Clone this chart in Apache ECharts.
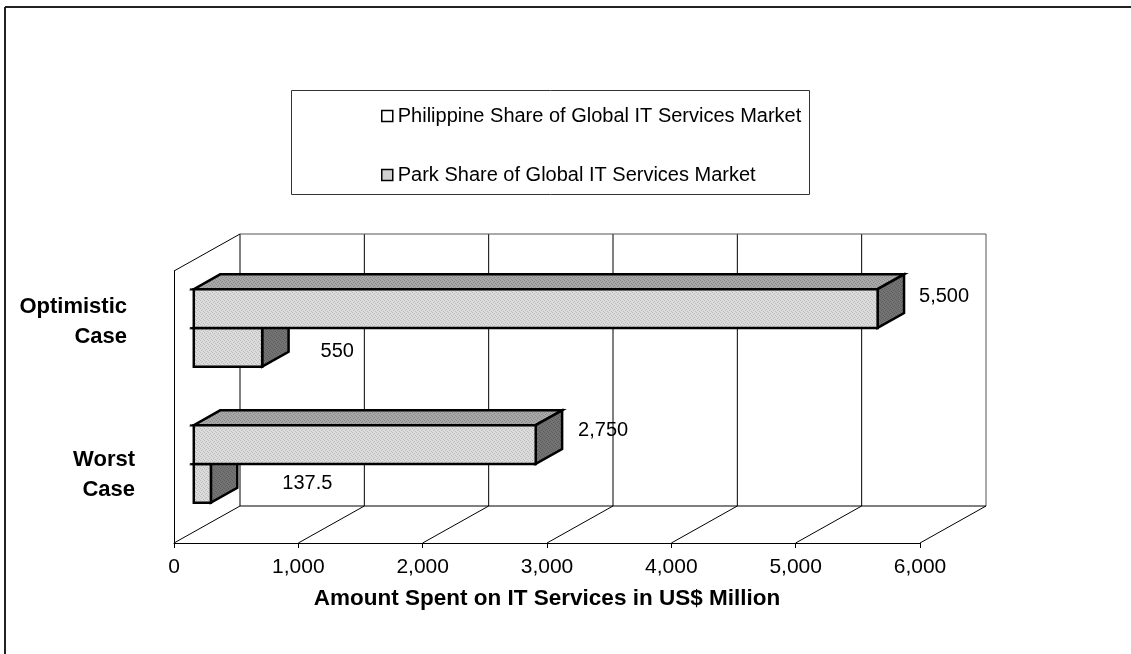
<!DOCTYPE html>
<html><head><meta charset="utf-8">
<script src="https://cdn.jsdelivr.net/npm/echarts@6/dist/echarts.min.js"></script>
<style>html,body{margin:0;padding:0;background:#fff}#c{width:1131px;height:654px}</style>
</head><body><div id="c"></div>
<script>
// ---- data ----
const categories = ['Worst Case', 'Optimistic Case'];
const seriesNames = ['Philippine Share of Global IT Services Market', 'Park Share of Global IT Services Market'];
const philippineShare = [2750, 5500];
const parkShare = [137.5, 550];
const xMin = 0, xMax = 6000, xStep = 1000;

// ---- style constants ----
const FONT = 'Liberation Sans, Arial, Helvetica, sans-serif';
const DEPTH = [66, -37];           // full 3D depth vector in px
const BAR_FRONT = 0.3, BAR_DEPTH = 0.4, BAR_H = 0.285;
const labelNudge = { upper: [[16, 1], [15, 3]], lower: [[45, 15], [32, 19]] };

function pattern(base, dot) {
  const c = document.createElement('canvas'); c.width = 4; c.height = 4;
  const g = c.getContext('2d'); g.fillStyle = base; g.fillRect(0, 0, 4, 4);
  g.fillStyle = dot; [[0,0],[2,1],[1,2],[3,3]].forEach(p => g.fillRect(p[0], p[1], 1, 1));
  return { image: c, repeat: 'repeat' };
}
const frontFill = pattern('#dcdcdc', '#bdbdbd');
const topFill = pattern('#a8a8a8', '#8a8a8a');
const sideFill = pattern('#737373', '#5e5e5e');

function fmt(v) { return v.toLocaleString('en-US'); }

function barRenderer(which) {
  return function (params, api) {
    const v = api.value(0), ci = api.value(1);
    const c0 = api.coord([0, ci]), c1 = api.coord([v, ci]);
    const band = api.size([0, 1])[1];
    const h = band * BAR_H;
    const fx = DEPTH[0] * BAR_FRONT, fy = DEPTH[1] * BAR_FRONT;
    const dx = DEPTH[0] * BAR_DEPTH, dy = DEPTH[1] * BAR_DEPTH;
    const yT = (which === 'upper' ? c0[1] - h : c0[1]) + fy;
    const yB = yT + h;
    const x0 = c0[0] + fx, x1 = c1[0] + fx;
    const stroke = { stroke: '#000', lineWidth: 2.5, lineJoin: 'miter' };
    const nud = labelNudge[which][params.dataIndex];
    return {
      type: 'group',
      children: [
        { type: 'polygon', shape: { points: [[x0, yT], [x1, yT], [x1 + dx, yT + dy], [x0 + dx, yT + dy]] },
          style: Object.assign({ fill: topFill }, stroke) },
        { type: 'polygon', shape: { points: [[x1, yT], [x1 + dx, yT + dy], [x1 + dx, yB + dy], [x1, yB]] },
          style: Object.assign({ fill: sideFill }, stroke) },
        { type: 'rect', shape: { x: x0, y: yT, width: x1 - x0, height: h },
          style: Object.assign({ fill: frontFill }, stroke) },
        { type: 'line', shape: { x1: x0 - 4, y1: yT, x2: x0, y2: yT }, style: { stroke: '#000', lineWidth: 1.5 } },
        { type: 'text', style: { text: fmt(v), x: x1 + dx + nud[0], y: (yT + yB) / 2 + dy + nud[1],
          fill: '#000', font: '20px ' + FONT, align: 'left', verticalAlign: 'middle' } }
      ]
    };
  };
}

function wallRenderer(params, api) {
  const band = api.size([0, 1])[1];
  const yBot = api.coord([0, 0])[1] + band / 2;
  const yTop = api.coord([0, categories.length - 1])[1] - band / 2;
  const [DX, DY] = DEPTH;
  const ch = [];
  const L = (x1, y1, x2, y2, col) => ch.push({ type: 'line', shape: { x1, y1, x2, y2 }, style: { stroke: col || '#000', lineWidth: 1 } });
  const xs = [];
  for (let v = xMin; v <= xMax; v += xStep) xs.push(api.coord([v, 0])[0]);
  xs.forEach((x, i) => {
    L(x + DX, yTop + DY, x + DX, yBot + DY, i === xs.length - 1 ? '#555' : '#000');
    L(x, yBot, x + DX, yBot + DY);
  });
  L(xs[0] + DX, yTop + DY, xs[xs.length - 1] + DX, yTop + DY, '#555');
  L(xs[0] + DX, yBot + DY, xs[xs.length - 1] + DX, yBot + DY);
  L(xs[0], yTop, xs[0] + DX, yTop + DY);
  return { type: 'group', children: ch };
}

const chart = echarts.init(document.getElementById('c'), null, { renderer: 'canvas' });
chart.setOption({
  animation: false,
  backgroundColor: '#fff',
  textStyle: { fontFamily: FONT },
  grid: { left: 174, top: 271, width: 746, height: 272, containLabel: false },
  legend: {
    orient: 'vertical', left: 376, top: 101, itemWidth: 11, itemHeight: 11, itemGap: 39,
    selectedMode: false,
    textStyle: { fontSize: 20, lineHeight: 20, color: '#000', fontFamily: FONT },
    data: [
      { name: seriesNames[0], icon: 'rect', itemStyle: { color: '#fff', borderColor: '#000', borderWidth: 1.5 } },
      { name: seriesNames[1], icon: 'rect', itemStyle: { color: '#d0d0d0', borderColor: '#000', borderWidth: 1.5 } }
    ]
  },
  xAxis: {
    type: 'value', min: xMin, max: xMax, interval: xStep,
    name: 'Amount Spent on IT Services in US$ Million', nameLocation: 'middle', nameGap: 44,
    nameTextStyle: { fontSize: 22.5, fontWeight: 'bold', color: '#000', fontFamily: FONT },
    axisLine: { show: true, lineStyle: { color: '#000', width: 1 } },
    axisTick: { show: true, length: 5, lineStyle: { color: '#000' } },
    axisLabel: { fontSize: 21, color: '#000', margin: 14, formatter: fmt, fontFamily: FONT },
    splitLine: { show: false }
  },
  yAxis: {
    type: 'category', data: categories,
    axisLine: { show: true, lineStyle: { color: '#000', width: 1 } },
    axisTick: { show: false },
    axisLabel: {
      margin: 39, color: '#000',
      formatter: function (value, index) {
        const parts = value.split(' ');
        return index === 1 ? '{o|' + parts[0] + '}\n{o|' + parts[1] + '}\n{s| }' : '{a|' + parts[0] + '}\n{a|' + parts[1] + '}';
      },
      rich: {
        a: { fontSize: 22, fontWeight: 'bold', lineHeight: 30, color: '#000', fontFamily: FONT },
        o: { fontSize: 22, fontWeight: 'bold', lineHeight: 30, color: '#000', fontFamily: FONT, padding: [0, 8, 0, 0] },
        s: { fontSize: 10, lineHeight: 34 }
      }
    },
    splitLine: { show: false }
  },
  graphic: [
    { type: 'line', shape: { x1: 5, y1: 7, x2: 1131, y2: 7 }, style: { stroke: '#222', lineWidth: 2 } },
    { type: 'line', shape: { x1: 5, y1: 7, x2: 5, y2: 654 }, style: { stroke: '#222', lineWidth: 2 } },
    { type: 'rect', shape: { x: 291.5, y: 90.5, width: 518, height: 104 }, style: { fill: 'none', stroke: '#333', lineWidth: 1 } }
  ],
  series: [
    { type: 'custom', name: '_walls', silent: true, clip: false, renderItem: wallRenderer, data: [[0, 0]] },
    { type: 'custom', name: seriesNames[1], clip: false, renderItem: barRenderer('lower'),
      itemStyle: { color: '#d0d0d0' },
      data: parkShare.map((v, i) => [v, i]) },
    { type: 'custom', name: seriesNames[0], clip: false, renderItem: barRenderer('upper'),
      itemStyle: { color: '#fff' },
      data: philippineShare.map((v, i) => [v, i]) }
  ]
});
</script>
</body></html>
